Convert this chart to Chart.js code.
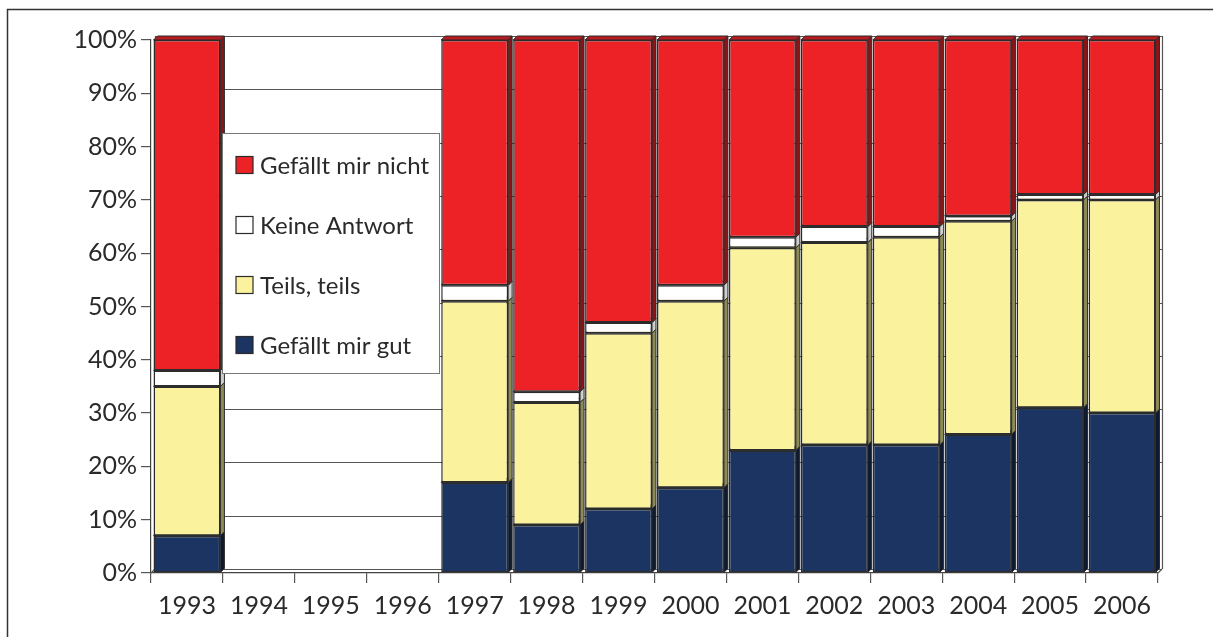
<!DOCTYPE html>
<html>
<head>
<meta charset="utf-8">
<script src="https://cdn.jsdelivr.net/npm/chart.js@4/dist/chart.umd.min.js"></script>
<style>
  html, body { margin: 0; padding: 0; background: #fff; }
  #wrap { width: 1213px; height: 637px; position: relative; }
</style>
</head>
<body>
<div id="wrap"><canvas id="c" width="1213" height="637"></canvas></div>
<script>
// years on the x axis (1994-1996 have no survey)
var years = ['1993','1994','1995','1996','1997','1998','1999','2000','2001','2002','2003','2004','2005','2006'];

// shares in percent, bottom of the stack first
var gefaelltGut   = [7,  null, null, null, 17, 9,  12, 16, 23, 24, 24, 26, 31, 30];
var teilsTeils    = [28, null, null, null, 34, 23, 33, 35, 38, 38, 39, 40, 39, 40];
var keineAntwort  = [3,  null, null, null, 3,  2,  2,  3,  2,  3,  2,  1,  1,  1];
var gefaelltNicht = [62, null, null, null, 46, 66, 53, 46, 37, 35, 35, 33, 29, 29];

var yTicks = [0,10,20,30,40,50,60,70,80,90,100];

var DEPTH = 4;
var FONT = 'Lato, "Noto Sans", sans-serif';
var EDGE = '#2b2b2b';

function makeSet(label, data, color, side, top) {
    return {
        label: label,
        data: data,
        backgroundColor: color,
        sideColor: side,
        topColor: top,
        borderColor: EDGE,
        borderWidth: 1.5,
        borderSkipped: false,
        barPercentage: 0.93,
        categoryPercentage: 1.0
    };
}

// page frame, cut at right and bottom like the scan
var framePlugin = {
    id: 'frame',
    beforeDraw: function(chart) {
        var ctx = chart.ctx;
        ctx.save();
        ctx.strokeStyle = '#333';
        ctx.lineWidth = 1.5;
        ctx.beginPath();
        ctx.moveTo(7.5, 637);
        ctx.lineTo(7.5, 9.5);
        ctx.lineTo(1213, 9.5);
        ctx.stroke();
        ctx.restore();
    }
};

// back wall with grid lines, then side/top faces of every bar
var depthPlugin = {
    id: 'depth',
    beforeDatasetsDraw: function(chart) {
        var ctx = chart.ctx;
        var a = chart.chartArea;
        var ys = chart.scales.y;
        ctx.save();
        ctx.strokeStyle = '#555';
        ctx.lineWidth = 1.2;
        yTicks.forEach(function(v) {
            var y = Math.round(ys.getPixelForValue(v) - DEPTH) + 0.5;
            ctx.beginPath();
            ctx.moveTo(a.left + DEPTH, y);
            ctx.lineTo(a.right + DEPTH, y);
            ctx.stroke();
        });
        ctx.beginPath();
        ctx.moveTo(a.left + DEPTH + 0.5, a.top - DEPTH);
        ctx.lineTo(a.left + DEPTH + 0.5, a.bottom - DEPTH);
        ctx.moveTo(a.right + DEPTH + 0.5, a.top - DEPTH);
        ctx.lineTo(a.right + DEPTH + 0.5, a.bottom - DEPTH);
        ctx.moveTo(a.left, a.bottom);
        ctx.lineTo(a.left + DEPTH, a.bottom - DEPTH);
        ctx.moveTo(a.right, a.bottom);
        ctx.lineTo(a.right + DEPTH, a.bottom - DEPTH);
        ctx.stroke();

        ctx.strokeStyle = EDGE;
        ctx.lineWidth = 1;
        chart.data.datasets.forEach(function(ds, i) {
            var meta = chart.getDatasetMeta(i);
            meta.data.forEach(function(bar, j) {
                if (ds.data[j] == null) return;
                var p = bar.getProps(['x', 'y', 'base', 'width'], true);
                var l = p.x - p.width / 2, r = p.x + p.width / 2;
                var t = Math.min(p.y, p.base), b = Math.max(p.y, p.base);
                // side
                ctx.fillStyle = ds.sideColor;
                ctx.beginPath();
                ctx.moveTo(r, t);
                ctx.lineTo(r + DEPTH, t - DEPTH);
                ctx.lineTo(r + DEPTH, b - DEPTH);
                ctx.lineTo(r, b);
                ctx.closePath();
                ctx.fill();
                ctx.stroke();
                // top
                ctx.fillStyle = ds.topColor;
                ctx.beginPath();
                ctx.moveTo(l, t);
                ctx.lineTo(l + DEPTH, t - DEPTH);
                ctx.lineTo(r + DEPTH, t - DEPTH);
                ctx.lineTo(r, t);
                ctx.closePath();
                ctx.fill();
                ctx.stroke();
            });
        });
        ctx.restore();
    }
};

// legend box laid over the empty years
var boxLegend = {
    id: 'boxLegend',
    afterDatasetsDraw: function(chart) {
        var ctx = chart.ctx;
        var bx = 222, by = 133, bw = 217, bh = 240;
        ctx.save();
        ctx.fillStyle = '#fff';
        ctx.fillRect(bx, by, bw, bh);
        ctx.strokeStyle = '#777';
        ctx.lineWidth = 1;
        ctx.strokeRect(bx + 0.5, by + 0.5, bw, bh);
        var sets = chart.data.datasets.slice().reverse();
        ctx.font = '24px ' + FONT;
        ctx.textBaseline = 'middle';
        sets.forEach(function(ds, i) {
            var cy = by + 32 + i * 60;
            ctx.fillStyle = ds.backgroundColor;
            ctx.fillRect(236, cy - 8.5, 17, 17);
            ctx.strokeStyle = EDGE;
            ctx.lineWidth = 1.2;
            ctx.strokeRect(236, cy - 8.5, 17, 17);
            ctx.fillStyle = '#2a2a2a';
            ctx.fillText(ds.label, 260, cy + 1);
        });
        ctx.restore();
    }
};

var ctx = document.getElementById('c').getContext('2d');
new Chart(ctx, {
    type: 'bar',
    data: {
        labels: years,
        datasets: [
            makeSet('Gefällt mir gut', gefaelltGut, '#1b3461', '#0e1a30', '#14284a'),
            makeSet('Teils, teils', teilsTeils, '#faf29c', '#8d8a55', '#d8d18a'),
            makeSet('Keine Antwort', keineAntwort, '#ffffff', '#cfcfcf', '#eeeeee'),
            makeSet('Gefällt mir nicht', gefaelltNicht, '#ec2227', '#8a1519', '#b81b1f')
        ]
    },
    options: {
        responsive: false,
        animation: false,
        layout: { padding: { top: 40, right: 55, bottom: 0, left: 0 } },
        plugins: {
            legend: { display: false },
            tooltip: { enabled: false }
        },
        scales: {
            x: {
                stacked: true,
                grid: { offset: true, drawOnChartArea: false, drawTicks: true, tickLength: 10, color: '#555', lineWidth: 1.2 },
                border: { display: true, color: '#444', width: 1.2 },
                ticks: { font: { family: FONT, size: 25 }, color: '#2a2a2a', padding: 8, maxRotation: 0, autoSkip: false },
                afterFit: function(s) { s.height = 64; }
            },
            y: {
                stacked: true,
                min: 0,
                max: 100,
                grid: { drawOnChartArea: false, drawTicks: true, tickLength: 10, color: '#555', lineWidth: 1.2 },
                border: { display: true, color: '#444', width: 1.2 },
                ticks: {
                    stepSize: 10,
                    font: { family: FONT, size: 25 },
                    color: '#2a2a2a',
                    padding: 4,
                    callback: function(v) { return v + '%'; }
                },
                afterFit: function(s) { s.width = 151; }
            }
        }
    },
    plugins: [framePlugin, depthPlugin, boxLegend]
});
</script>
</body>
</html>
